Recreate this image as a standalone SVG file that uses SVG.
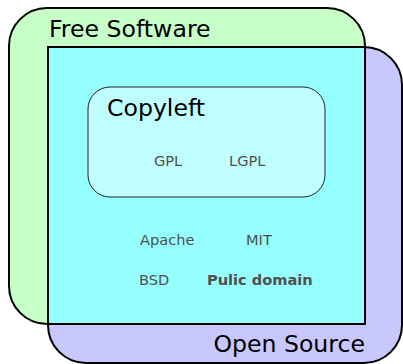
<svg xmlns="http://www.w3.org/2000/svg" width="403" height="364" viewBox="0 0 403 364">
<style>
.set{stroke:#000;stroke-width:2}
.big{font-family:"DejaVu Sans",sans-serif;font-size:23.6px;fill:#000}
.lic{font-family:"DejaVu Sans",sans-serif;font-size:14.6px;fill:#505050}
.bold{font-weight:bold}
</style>
<rect width="403" height="364" fill="#fff"/>
<g id="free-software">
<rect class="set" x="9" y="8" width="356" height="316" rx="38" ry="38" fill="#c8ffc8"/>
<text class="big" x="49" y="37">Free Software</text>
</g>
<g id="open-source">
<rect class="set" x="48" y="47" width="354" height="316" rx="38" ry="38" fill="#c8c8ff"/>
<text class="big" x="365" y="352" text-anchor="end">Open Source</text>
</g>
<g id="intersection">
<rect class="set" x="48" y="47" width="317" height="277" fill="#96ffff"/>
<text class="lic" x="140" y="245">Apache</text>
<text class="lic" x="246" y="245">MIT</text>
<text class="lic" x="139" y="285">BSD</text>
<text class="lic bold" x="207" y="285">Pulic domain</text>
</g>
<g id="copyleft">
<rect x="88" y="87" width="237" height="110" rx="22" ry="22" fill="#c0ffff" stroke="#222" stroke-width="1"/>
<text class="big" x="107" y="116">Copyleft</text>
<text class="lic" x="154" y="166">GPL</text>
<text class="lic" x="229" y="166">LGPL</text>
</g>
<g id="connectors"/>
</svg>
